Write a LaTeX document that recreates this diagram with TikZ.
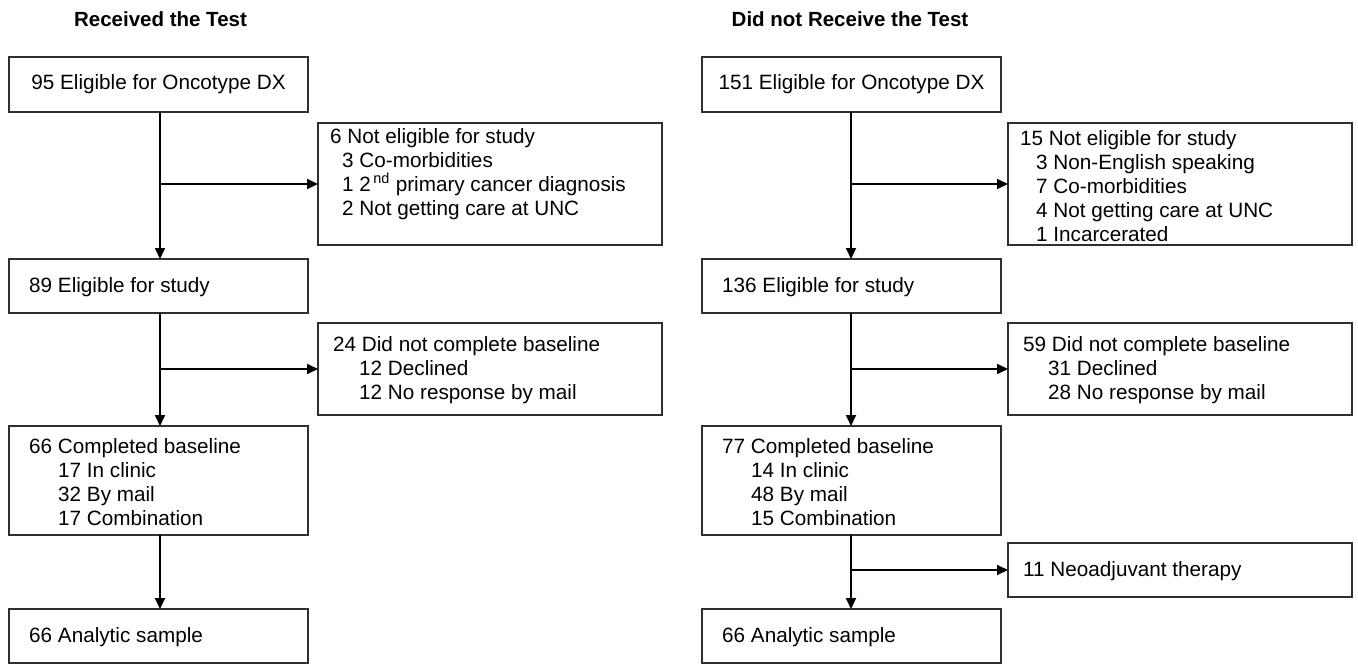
\documentclass[tikz,border=0pt]{standalone}
\usepackage{fontspec}
\setmainfont{Liberation Sans}
\usetikzlibrary{arrows.meta}
\definecolor{boxgray}{HTML}{303030}
\begin{document}
\begin{tikzpicture}[x=1pt,y=-1pt,
  box/.style={draw=boxgray, line width=1.4pt, rectangle, inner sep=0pt, outer sep=0pt},
  txt/.style={inner sep=0pt, align=left, anchor=west, font=\fontsize{20.7}{24}\selectfont},
  ctxt/.style={font=\fontsize{20.7}{24}\selectfont},
  ttl/.style={inner sep=0pt, font=\fontsize{20.5}{24}\selectfont\bfseries},
  arr/.style={line width=1.8pt, -{Triangle[length=11pt,width=10pt]}}]
\useasboundingbox (0,0) rectangle (1358,664);
% column axes
\coordinate (LA) at (160,0);
\coordinate (RA) at (851,0);
% titles
\node[ttl] (tl) at (160.5,19) {Received the Test};
\node[ttl] (tr) at (850,19) {Did not Receive the Test};
% left column boxes
\node[box, ctxt, minimum width=299pt, minimum height=55pt] (L1) at (158.5,84.5) {95 Eligible for Oncotype DX};
\node[box, minimum width=344pt, minimum height=122pt] (LS1) at (490,184) {};
\node[box, minimum width=299pt, minimum height=54pt] (L2) at (158.5,286) {};
\node[box, minimum width=344pt, minimum height=92pt] (LS2) at (490,369) {};
\node[box, minimum width=299pt, minimum height=109pt] (L3) at (158.5,480.5) {};
\node[box, minimum width=299pt, minimum height=54pt] (L4) at (158.5,636) {};
% right column boxes
\node[box, ctxt, minimum width=299pt, minimum height=55pt] (R1) at (851.5,84.5) {151 Eligible for Oncotype DX};
\node[box, minimum width=344pt, minimum height=122pt] (RS1) at (1180,184) {};
\node[box, minimum width=299pt, minimum height=54pt] (R2) at (851.5,286) {};
\node[box, minimum width=344pt, minimum height=92pt] (RS2) at (1180,369) {};
\node[box, minimum width=299pt, minimum height=109pt] (R3) at (851.5,480.5) {};
\node[box, minimum width=344pt, minimum height=54pt] (RS3) at (1180,570) {};
\node[box, minimum width=299pt, minimum height=54pt] (R4) at (851.5,636) {};
% texts left
\node[txt] (tLS1) at (330,174) {6 Not eligible for study\\
  \hspace*{12pt}3 Co-morbidities\\
  \hspace*{12pt}1 2\textsuperscript{\,nd} primary cancer diagnosis\\
  \hspace*{12pt}2 Not getting care at UNC};
\node[txt] (tL2) at (29,287) {89 Eligible for study};
\node[txt] (tLS2) at (333,370) {24 Did not complete baseline\\
  \hspace*{26pt}12 Declined\\
  \hspace*{26pt}12 No response by mail};
\node[txt] (tL3) at (29,482) {66 Completed baseline\\
  \hspace*{29pt}17 In clinic\\
  \hspace*{29pt}32 By mail\\
  \hspace*{29pt}17 Combination};
\node[txt] (tL4) at (29,637) {66 Analytic sample};
% texts right
\node[txt] (tRS1) at (1020,186) {15 Not eligible for study\\
  \hspace*{16pt}3 Non-English speaking\\
  \hspace*{16pt}7 Co-morbidities\\
  \hspace*{16pt}4 Not getting care at UNC\\
  \hspace*{16pt}1 Incarcerated};
\node[txt] (tR2) at (722,287) {136 Eligible for study};
\node[txt] (tRS2) at (1023,370) {59 Did not complete baseline\\
  \hspace*{25pt}31 Declined\\
  \hspace*{25pt}28 No response by mail};
\node[txt] (tR3) at (722,482) {77 Completed baseline\\
  \hspace*{29pt}14 In clinic\\
  \hspace*{29pt}48 By mail\\
  \hspace*{29pt}15 Combination};
\node[txt] (tRS3) at (1023,571) {11 Neoadjuvant therapy};
\node[txt] (tR4) at (722,637) {66 Analytic sample};
% left connectors
\draw[arr] (L1.south -| LA) -- (L2.north -| LA);
\draw[arr] (LA |- LS1.west) -- (LS1.west);
\draw[arr] (L2.south -| LA) -- (L3.north -| LA);
\draw[arr] (LA |- LS2.west) -- (LS2.west);
\draw[arr] (L3.south -| LA) -- (L4.north -| LA);
% right connectors
\draw[arr] (R1.south -| RA) -- (R2.north -| RA);
\draw[arr] (RA |- RS1.west) -- (RS1.west);
\draw[arr] (R2.south -| RA) -- (R3.north -| RA);
\draw[arr] (RA |- RS2.west) -- (RS2.west);
\draw[arr] (R3.south -| RA) -- (R4.north -| RA);
\draw[arr] (RA |- RS3.west) -- (RS3.west);
\end{tikzpicture}
\end{document}
